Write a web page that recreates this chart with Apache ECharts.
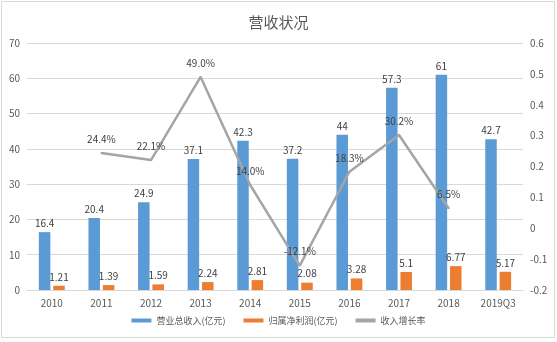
<!DOCTYPE html>
<html><head><meta charset="utf-8">
<script src="https://cdn.jsdelivr.net/npm/echarts@6/dist/echarts.min.js"></script>
<style>html,body{margin:0;padding:0;background:#fff}#c{width:557px;height:342px}</style>
</head><body><div id="c"></div>
<script>
const categories = ['2010','2011','2012','2013','2014','2015','2016','2017','2018','2019Q3'];
const revenue = [16.4, 20.4, 24.9, 37.1, 42.3, 37.2, 44, 57.3, 61, 42.7];
const netProfit = [1.21, 1.39, 1.59, 2.24, 2.81, 2.08, 3.28, 5.1, 6.77, 5.17];
const growth = [null, 0.244, 0.221, 0.490, 0.140, -0.121, 0.183, 0.302, 0.065, null];
const leftTicks = {min: 0, max: 70, interval: 10};
const rightTicks = {min: -0.2, max: 0.6, interval: 0.1};

const font = '"Noto Sans CJK SC", "Microsoft YaHei", sans-serif';
const chart = echarts.init(document.getElementById('c'));
chart.setOption({
  backgroundColor: '#fff',
  textStyle: {fontFamily: font},
  animation: false,
  title: {text: '营收状况', left: 'center', top: 10,
    textStyle: {fontSize: 15, fontWeight: 'normal', color: '#595959', fontFamily: font}},
  graphic: [{type: 'rect', shape: {x: 1.5, y: 1.5, width: 553, height: 336},
    style: {fill: 'none', stroke: '#D9D9D9', lineWidth: 1}, silent: true}],
  legend: {bottom: 12, left: 'center', itemWidth: 20, itemHeight: 4, itemGap: 18,
    textStyle: {fontSize: 9, color: '#595959', fontFamily: font},
    data: [{name: '营业总收入(亿元)', icon: 'rect'}, {name: '归属净利润(亿元)', icon: 'rect'},
      {name: '收入增长率', icon: 'rect'}]},
  grid: {left: 27, right: 34, top: 43, bottom: 52},
  xAxis: {type: 'category', data: categories,
    axisLine: {lineStyle: {color: '#D9D9D9'}}, axisTick: {show: false},
    axisLabel: {fontSize: 10, color: '#595959', margin: 8}},
  yAxis: [
    {type: 'value', min: leftTicks.min, max: leftTicks.max, interval: leftTicks.interval,
      axisLine: {show: false}, axisTick: {show: false},
      axisLabel: {fontSize: 10, color: '#595959', margin: 7},
      splitLine: {lineStyle: {color: '#D9D9D9'}}},
    {type: 'value', min: rightTicks.min, max: rightTicks.max, interval: rightTicks.interval,
      axisLine: {show: false}, axisTick: {show: false}, splitLine: {show: false},
      axisLabel: {fontSize: 10, color: '#595959', margin: 7, formatter: v => String(+v.toFixed(1))}}
  ],
  series: [
    {name: '营业总收入(亿元)', type: 'bar', data: revenue, barWidth: 11.5, barGap: '25%',
      itemStyle: {color: '#5B9BD5'},
      label: {show: true, position: 'top', fontSize: 10, color: '#404040', distance: 4}},
    {name: '归属净利润(亿元)', type: 'bar', data: netProfit, barWidth: 11.5,
      itemStyle: {color: '#ED7D31'},
      label: {show: true, position: 'top', fontSize: 10, color: '#404040', distance: 4}},
    {name: '收入增长率', type: 'line', yAxisIndex: 1, data: growth, showSymbol: true,
      symbol: 'circle', symbolSize: 2,
      lineStyle: {color: '#A5A5A5', width: 2.5}, itemStyle: {color: '#A5A5A5', borderWidth: 0},
      label: {show: true, position: 'top', distance: 8, fontSize: 10, color: '#404040',
        formatter: p => (p.value * 100).toFixed(1) + '%'}}
  ]
});
</script></body></html>
